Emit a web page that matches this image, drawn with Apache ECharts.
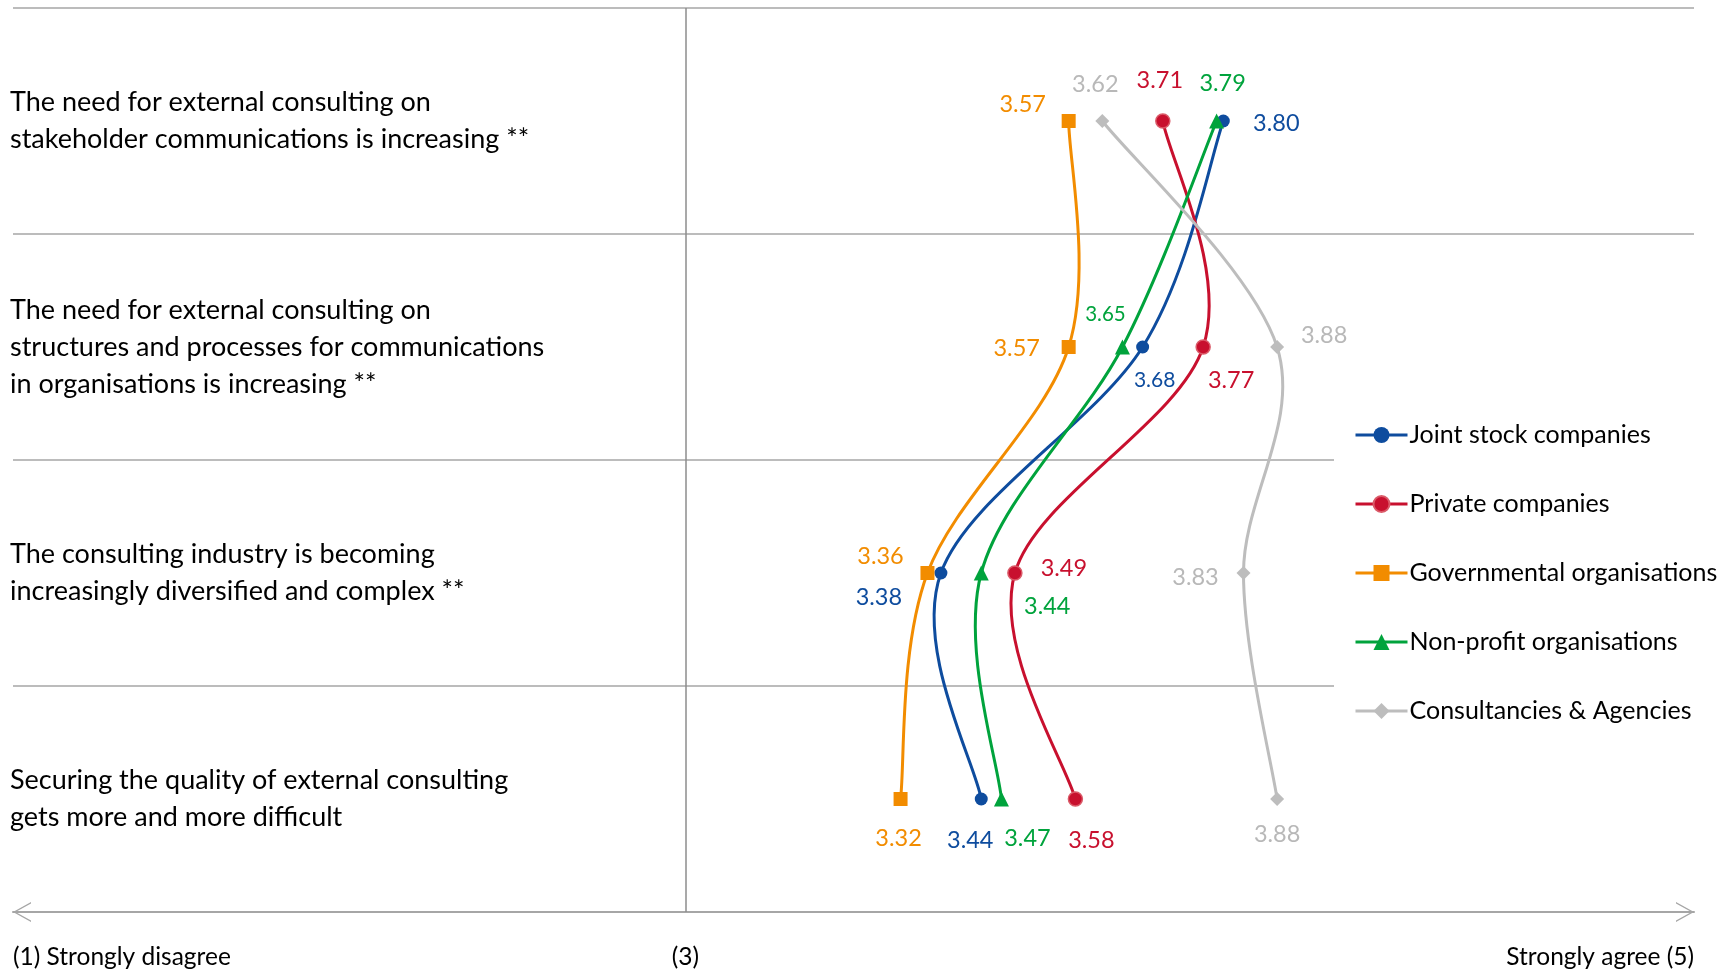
<!DOCTYPE html>
<html>
<head>
<meta charset="utf-8">
<script src="https://cdn.jsdelivr.net/npm/echarts@6/dist/echarts.min.js"></script>
<style>
html,body{margin:0;padding:0;background:#fff;}
#chart{width:1733px;height:971px;}
</style>
</head>
<body>
<div id="chart"></div>
<script>
// ---- data ----
const categories = [
  'The need for external consulting on\nstakeholder communications is increasing **',
  'The need for external consulting on\nstructures and processes for communications\nin organisations is increasing **',
  'The consulting industry is becoming\nincreasingly diversified and complex **',
  'Securing the quality of external consulting\ngets more and more difficult'
];
const seriesNames = ['Joint stock companies', 'Private companies', 'Governmental organisations', 'Non-profit organisations', 'Consultancies & Agencies'];
const jointStock    = [3.80, 3.68, 3.38, 3.44];
const privateCo     = [3.71, 3.77, 3.49, 3.58];
const governmental  = [3.57, 3.57, 3.36, 3.32];
const nonProfit     = [3.79, 3.65, 3.44, 3.47];
const consultancies = [3.62, 3.88, 3.83, 3.88];
const xTickLabels = { '2': '(1) Strongly disagree', '3': '(3)', '4.5': 'Strongly agree (5)' };

// ---- styles ----
const FONT = 'Lato';
const styles = [
  { color: '#0E4C9E', symbol: 'circle', size: 13, labelColor: '#0E4C9E' },
  { color: '#C8102E', symbol: 'circle', size: 14, labelColor: '#C8102E', border: '#DA5A68' },
  { color: '#F28C00', symbol: 'rect', size: 14, labelColor: '#F28C00' },
  { color: '#00A33C', symbol: 'triangle', size: 15, labelColor: '#00A33C' },
  { color: '#BDBDBD', symbol: 'diamond', size: 14, labelColor: '#B8B8B8' }
];
const labelOffsets = [
  [[53, 2], [12, 33], [-62, 24], [-11, 41]],
  [[-3, -41], [28, 33], [49, -5], [16, 41]],
  [[-46, -17], [-52, 1], [-47, -17], [-2, 39]],
  [[6, -38], [-17, -33], [66, 33], [26, 39]],
  [[-7, -37], [47, -12], [-48, 4], [0, 35]]
];
const labelSizes = [
  [23.5, 21, 23.5, 23.5],
  [23.5, 23.5, 23.5, 23.5],
  [23.5, 23.5, 23.5, 23.5],
  [23.5, 20.5, 23.5, 23.5],
  [23.5, 23.5, 23.5, 23.5]
];

const allValues = [jointStock, privateCo, governmental, nonProfit, consultancies];

const chart = echarts.init(document.getElementById('chart'), null, { renderer: 'canvas' });

// smooth curves (Catmull-Rom, tension 1/6 like spreadsheet smoothing), positioned via api.coord
const curveSeries = allValues.map((vals, s) => ({
  name: '_curve' + s,
  type: 'custom',
  z: 1,
  silent: true,
  encode: { x: 0, y: 1 },
  data: vals.map((v, i) => [v, i]),
  renderItem: function (params, api) {
    const n = vals.length;
    const i = params.dataIndex;
    if (i >= n - 1) return null;
    const P = k => {
      const kk = Math.max(0, Math.min(n - 1, k));
      return api.coord([vals[kk], kk]);
    };
    const p0 = P(i - 1), p1 = P(i), p2 = P(i + 1), p3 = P(i + 2);
    const c1 = [p1[0] + (p2[0] - p0[0]) / 6, p1[1] + (p2[1] - p0[1]) / 6];
    const c2 = [p2[0] - (p3[0] - p1[0]) / 6, p2[1] - (p3[1] - p1[1]) / 6];
    return {
      type: 'bezierCurve',
      shape: { x1: p1[0], y1: p1[1], x2: p2[0], y2: p2[1], cpx1: c1[0], cpy1: c1[1], cpx2: c2[0], cpy2: c2[1] },
      style: { stroke: styles[s].color, lineWidth: 3, fill: 'none' }
    };
  }
}));

const pointSeries = allValues.map((vals, s) => {
  const st = styles[s];
  const ser = {
    name: seriesNames[s],
    type: 'line',
    z: 3,
    symbol: st.symbol,
    symbolSize: st.size,
    lineStyle: { color: st.color, width: 3, opacity: 0 },
    itemStyle: st.border ? { color: st.color, borderColor: st.border, borderWidth: 1.5 } : { color: st.color },
    label: {
      show: true,
      position: 'inside',
      color: st.labelColor,
      fontFamily: FONT,
      formatter: p => p.value[0].toFixed(2)
    },
    emphasis: { disabled: true },
    data: vals.map((v, i) => ({
      value: [v, categories[i]],
      label: { offset: labelOffsets[s][i], fontSize: labelSizes[s][i] }
    }))
  };
  if (s === 0) {
    ser.markLine = {
      silent: true,
      symbol: 'none',
      label: { show: false },
      lineStyle: { color: '#8C8C8C', width: 1.5, type: 'solid', opacity: 1 },
      data: [{ xAxis: 3 }]
    };
  }
  return ser;
});

const chevron = 'path://M0,18 L10,0 L20,18 L18.4,18 L10,2.6 L1.6,18 Z';

chart.setOption({
  animation: false,
  backgroundColor: '#fff',
  textStyle: { fontFamily: FONT },
  grid: { left: 13, right: 39, top: 8, bottom: 59, containLabel: false, outerBoundsMode: 'none' },
  xAxis: {
    type: 'value',
    min: 2,
    max: 4.5,
    interval: 0.5,
    position: 'bottom',
    axisLine: {
      show: true,
      lineStyle: { color: '#A6A6A6', width: 2 },
      symbol: [chevron, chevron],
      symbolSize: [22, 18],
      symbolOffset: [9, -9]
    },
    axisTick: { show: false },
    splitLine: { show: false },
    axisLabel: {
      show: true,
      margin: 33,
      color: '#000',
      fontFamily: FONT,
      fontSize: 24.5,
      showMinLabel: true,
      showMaxLabel: true,
      alignMinLabel: 'left',
      alignMaxLabel: 'right',
      formatter: v => xTickLabels[String(v)] || ''
    }
  },
  yAxis: {
    type: 'category',
    data: categories,
    inverse: true,
    boundaryGap: true,
    axisLine: { show: false },
    axisTick: { show: false },
    splitLine: { show: true, interval: 0, lineStyle: { color: '#A6A6A6', width: 1.5 } },
    axisLabel: {
      show: true,
      interval: 0,
      align: 'left',
      verticalAlign: 'middle',
      margin: 3,
      color: '#000',
      fontFamily: FONT,
      fontSize: 27,
      lineHeight: 37
    }
  },
  legend: {
    orient: 'vertical',
    left: 1334,
    top: 382,
    padding: [38, 10, 30, 20],
    backgroundColor: '#fff',
    itemWidth: 52,
    itemHeight: 20,
    itemGap: 39,
    selectedMode: false,
    lineStyle: { width: 3, opacity: 1 },
    textStyle: { color: '#000', fontFamily: FONT, fontSize: 25, lineHeight: 30, padding: [0, 0, 0, -3] },
    data: seriesNames
  },
  series: curveSeries.concat(pointSeries)
});
</script>
</body>
</html>
